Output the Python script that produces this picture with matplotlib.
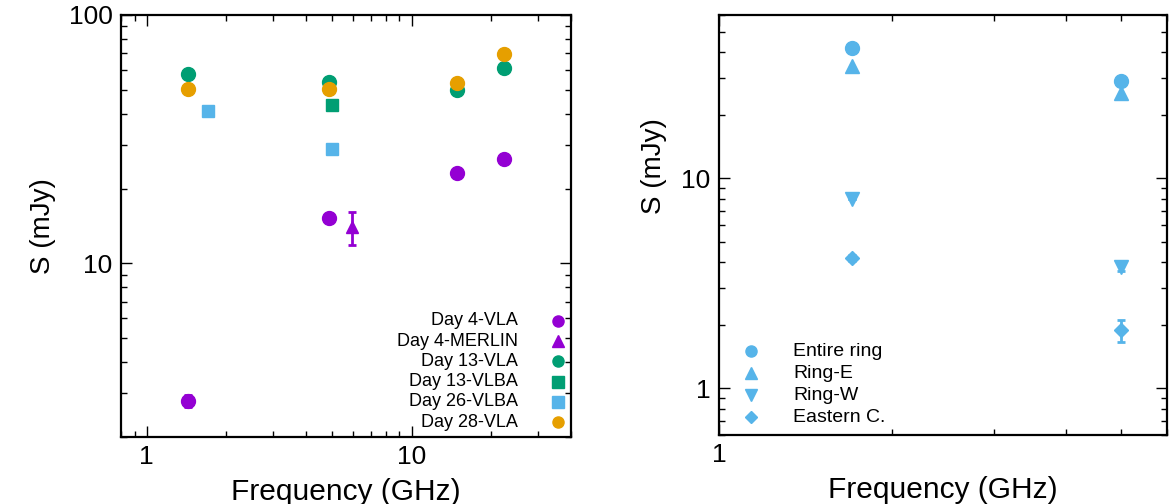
import numpy as np
import matplotlib
matplotlib.use('Agg')
from matplotlib import pyplot as plt
from matplotlib.ticker import LogLocator, NullFormatter, FixedLocator, FixedFormatter

plt.rcParams['font.family'] = ['Liberation Sans', 'DejaVu Sans']

# colours (gnuplot default palette)
PURPLE = '#9400d3'
GREEN = '#009e73'
BLUE = '#56b4e9'
ORANGE = '#e69f00'

# ---- left panel data ----
day4_vla_freq = [1.43, 4.86, 14.9, 22.4]
day4_vla_flux = [2.8, 15.2, 23.2, 26.3]
day4_vla_err = [0.15, 0.0, 0.0, 0.0]

day4_merlin_freq = [5.94]
day4_merlin_flux = [14.0]
day4_merlin_err = [2.1]

day13_vla_freq = [1.43, 4.86, 14.9, 22.4]
day13_vla_flux = [57.7, 53.5, 49.8, 61.0]

day13_vlba_freq = [4.99]
day13_vlba_flux = [43.6]

day26_vlba_freq = [1.7, 4.99]
day26_vlba_flux = [41.1, 28.8]

day28_vla_freq = [1.43, 4.86, 14.9, 22.4]
day28_vla_flux = [50.2, 50.2, 53.0, 69.6]

left_labels = ['Day 4-VLA', 'Day 4-MERLIN', 'Day 13-VLA', 'Day 13-VLBA',
               'Day 26-VLBA', 'Day 28-VLA']

# ---- right panel data ----
ring_freq = [1.7, 5.0]
entire_ring = [42.0, 29.1]
ring_e = [34.4, 25.5]
ring_w = [7.94, 3.79]
ring_w_err = [0.0, 0.15]
eastern_c = [4.19, 1.89]
eastern_c_err = [0.15, 0.23]

right_labels = ['Entire ring', 'Ring-E', 'Ring-W', 'Eastern C.']

fig = plt.figure(figsize=(11.73, 5.04), dpi=100)
ax1 = fig.add_axes([121/1173, 67/504, 450/1173, 422/504])
ax2 = fig.add_axes([719/1173, 69/504, 448/1173, 420/504])

ms = 10
ax1.errorbar(day4_vla_freq, day4_vla_flux, yerr=day4_vla_err, fmt='o', color=PURPLE,
             ms=ms, capsize=3, elinewidth=2, capthick=2)
ax1.errorbar(day4_merlin_freq, day4_merlin_flux, yerr=day4_merlin_err, fmt='^', color=PURPLE,
             ms=9, capsize=3, elinewidth=2, capthick=2)
ax1.plot(day13_vla_freq, day13_vla_flux, 'o', color=GREEN, ms=ms)
ax1.plot(day13_vlba_freq, day13_vlba_flux, 's', color=GREEN, ms=9)
ax1.plot(day26_vlba_freq, day26_vlba_flux, 's', color=BLUE, ms=9)
ax1.plot(day28_vla_freq, day28_vla_flux, 'o', color=ORANGE, ms=ms)

ax2.plot(ring_freq, entire_ring, 'o', color=BLUE, ms=ms)
ax2.plot(ring_freq, ring_e, '^', color=BLUE, ms=ms)
ax2.errorbar(ring_freq, ring_w, yerr=ring_w_err, fmt='v', color=BLUE,
             ms=ms, capsize=3, elinewidth=2, capthick=2)
ax2.errorbar(ring_freq, eastern_c, yerr=eastern_c_err, fmt='D', color=BLUE,
             ms=7, capsize=3, elinewidth=2, capthick=2)

for ax in (ax1, ax2):
    ax.set_xscale('log')
    ax.set_yscale('log')
    for s in ax.spines.values():
        s.set_linewidth(1.6)
    ax.tick_params(which='both', direction='in', top=True, right=True, width=1.0)
    ax.tick_params(which='major', length=8, labelsize=19, pad=6)
    ax.tick_params(which='minor', length=4)
    ax.set_xlabel('Frequency (GHz)', fontsize=21.5, labelpad=6)
    ax.set_ylabel('S (mJy)', fontsize=20)
    ax.xaxis.set_minor_formatter(NullFormatter())
    ax.yaxis.set_minor_formatter(NullFormatter())

ax1.set_xlim(0.8, 40)
ax1.set_ylim(2, 100)
ax1.xaxis.set_major_locator(FixedLocator([1, 10]))
ax1.xaxis.set_major_formatter(FixedFormatter(['1', '10']))
ax1.yaxis.set_major_locator(FixedLocator([10, 100]))
ax1.yaxis.set_major_formatter(FixedFormatter(['10', '100']))
ax1.xaxis.set_minor_locator(LogLocator(subs=np.arange(2, 10), numticks=20))
ax1.yaxis.set_minor_locator(LogLocator(subs=np.arange(2, 10), numticks=20))
ax1.yaxis.set_label_coords(-0.145, 0.5)

ax2.set_xlim(1, 6)
ax2.set_ylim(0.6, 60)
ax2.xaxis.set_major_locator(FixedLocator([1]))
ax2.xaxis.set_major_formatter(FixedFormatter(['1']))
ax2.yaxis.set_major_locator(FixedLocator([1, 10]))
ax2.yaxis.set_major_formatter(FixedFormatter(['1', '10']))
ax2.xaxis.set_minor_locator(LogLocator(subs=np.arange(2, 10), numticks=20))
ax2.yaxis.set_minor_locator(LogLocator(subs=np.arange(2, 10), numticks=20))
ax2.yaxis.set_label_coords(-0.115, 0.64)

# left key: text right-aligned, marker after it
left_marks = [('o', PURPLE, 8), ('^', PURPLE, 8), ('o', GREEN, 8),
              ('s', GREEN, 8), ('s', BLUE, 8), ('o', ORANGE, 8)]
for i, (lab, (m, c, s)) in enumerate(zip(left_labels, left_marks)):
    y = 0.275 - i * 0.0479
    ax1.text(0.882, y, lab, transform=ax1.transAxes, ha='right', va='center', fontsize=13)
    ax1.plot([0.971], [y], m, color=c, ms=s, transform=ax1.transAxes, clip_on=False)

# right key: marker first, then text
right_marks = [('o', 8), ('^', 8), ('v', 8), ('D', 6)]
for i, (lab, (m, s)) in enumerate(zip(right_labels, right_marks)):
    y = 0.2 - i * 0.0524
    ax2.plot([0.0714], [y], m, color=BLUE, ms=s, transform=ax2.transAxes, clip_on=False)
    ax2.text(0.165, y, lab, transform=ax2.transAxes, ha='left', va='center', fontsize=14)

plt.savefig('out.png', dpi=100)
